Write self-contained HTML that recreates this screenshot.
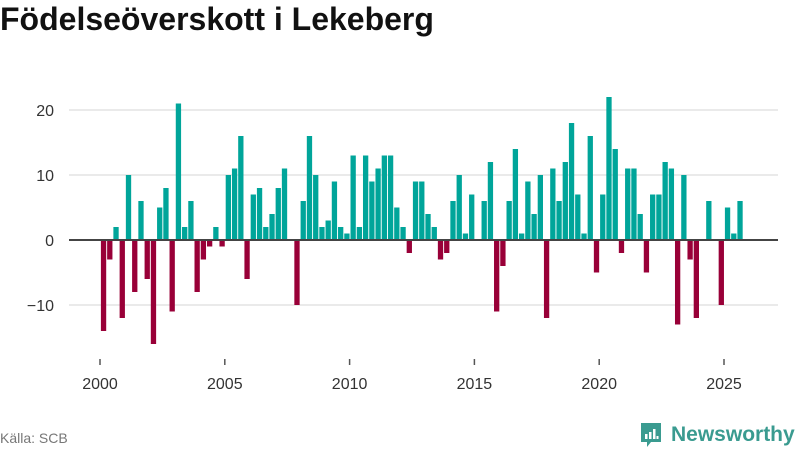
<!DOCTYPE html>
<html><head><meta charset="utf-8"><style>
body{margin:0;background:#fff;width:800px;height:450px;overflow:hidden;font-family:"Liberation Sans",sans-serif}
#title{position:absolute;left:0;top:1px;font-size:32px;font-weight:bold;color:#111;margin:0}
#source{position:absolute;left:0;top:430px;font-size:14px;color:#777}
#logo{position:absolute;left:639px;top:421px;display:flex;align-items:center;color:#3a9b90;font-size:21px;font-weight:bold}
</style></head><body>
<h1 id="title">Födelseöverskott i Lekeberg</h1>
<svg id="chart" width="800" height="450" style="position:absolute;left:0;top:0"></svg>
<div id="source">Källa: SCB</div>
<div id="logo">
<svg width="24" height="28" viewBox="0 0 24 28"><path d="M2 2h20v19h-10l-4 5v-5h-6z" fill="#3a9b90"/><rect x="6" y="13" width="2.5" height="5" fill="#fff"/><rect x="10" y="11" width="2.5" height="7" fill="#fff"/><rect x="14" y="8" width="2.5" height="10" fill="#fff"/><rect x="17.5" y="15" width="2" height="3" fill="#fff"/></svg>
<span style="margin-left:8px">Newsworthy</span></div>
<script>
const startYear = 2000;
const values = [-14,-3,2,-12, 10,-8,6,-6, -16,5,8,-11, 21,2,6,-8, -3,-1,2,-1, 10,11,16,-6, 7,8,2,4, 8,11,0,-10, 6,16,10,2, 3,9,2,1, 13,2,13,9, 11,13,13,5, 2,-2,9,9, 4,2,-3,-2, 6,10,1,7, 0,6,12,-11, -4,6,14,1, 9,4,10,-12, 11,6,12,18, 7,1,16,-5, 7,22,14,-2, 11,11,4,-5, 7,7,12,11, -13,10,-3,-12, 0,6,0,-10, 5,1,6];
const yTicks = [-10,0,10,20];
const xTicks = [2000,2005,2010,2015,2020,2025];
const NS="http://www.w3.org/2000/svg", svg=document.getElementById('chart');
const x = t => 100 + (t-2000)*24.96;
const y = v => 240 - v*6.5;
function mk(tag, attrs){const e=document.createElementNS(NS,tag);for(const k in attrs)e.setAttribute(k,attrs[k]);svg.appendChild(e);return e;}
yTicks.forEach(t=>{
  if(t!==0){const g=mk('line',{x1:69,x2:778,y1:y(t),y2:y(t),stroke:'#e3e3e3','stroke-width':1.5});
  
  }
  const l=mk('text',{x:54,y:y(t)+6,'text-anchor':'end','font-size':16,fill:'#333','font-family':'Liberation Sans, sans-serif'});
  l.textContent=t<0?'−'+(-t):t;
  
  
});
values.forEach((v,i)=>{
  const t=startYear+i/4;
  const x0=x(t)+0.9, w=5.3;
  const top=Math.min(y(v),y(0)), h=Math.abs(y(v)-y(0));
  const r=mk('rect',{x:x0,y:top,width:w,height:h,fill:v>=0?'#00a59a':'#990038'});
  
  
});
const ax=mk('line',{x1:69,x2:778,y1:y(0),y2:y(0),stroke:'#444','stroke-width':2});


xTicks.forEach(t=>{
  const tk=mk('line',{x1:x(t),x2:x(t),y1:359,y2:365,stroke:'#555','stroke-width':1.5});
  
  
  const l=mk('text',{x:x(t),y:389,'text-anchor':'middle','font-size':16,fill:'#333','font-family':'Liberation Sans, sans-serif'});
  l.textContent=t;
  
  
});
</script>
</body></html>
